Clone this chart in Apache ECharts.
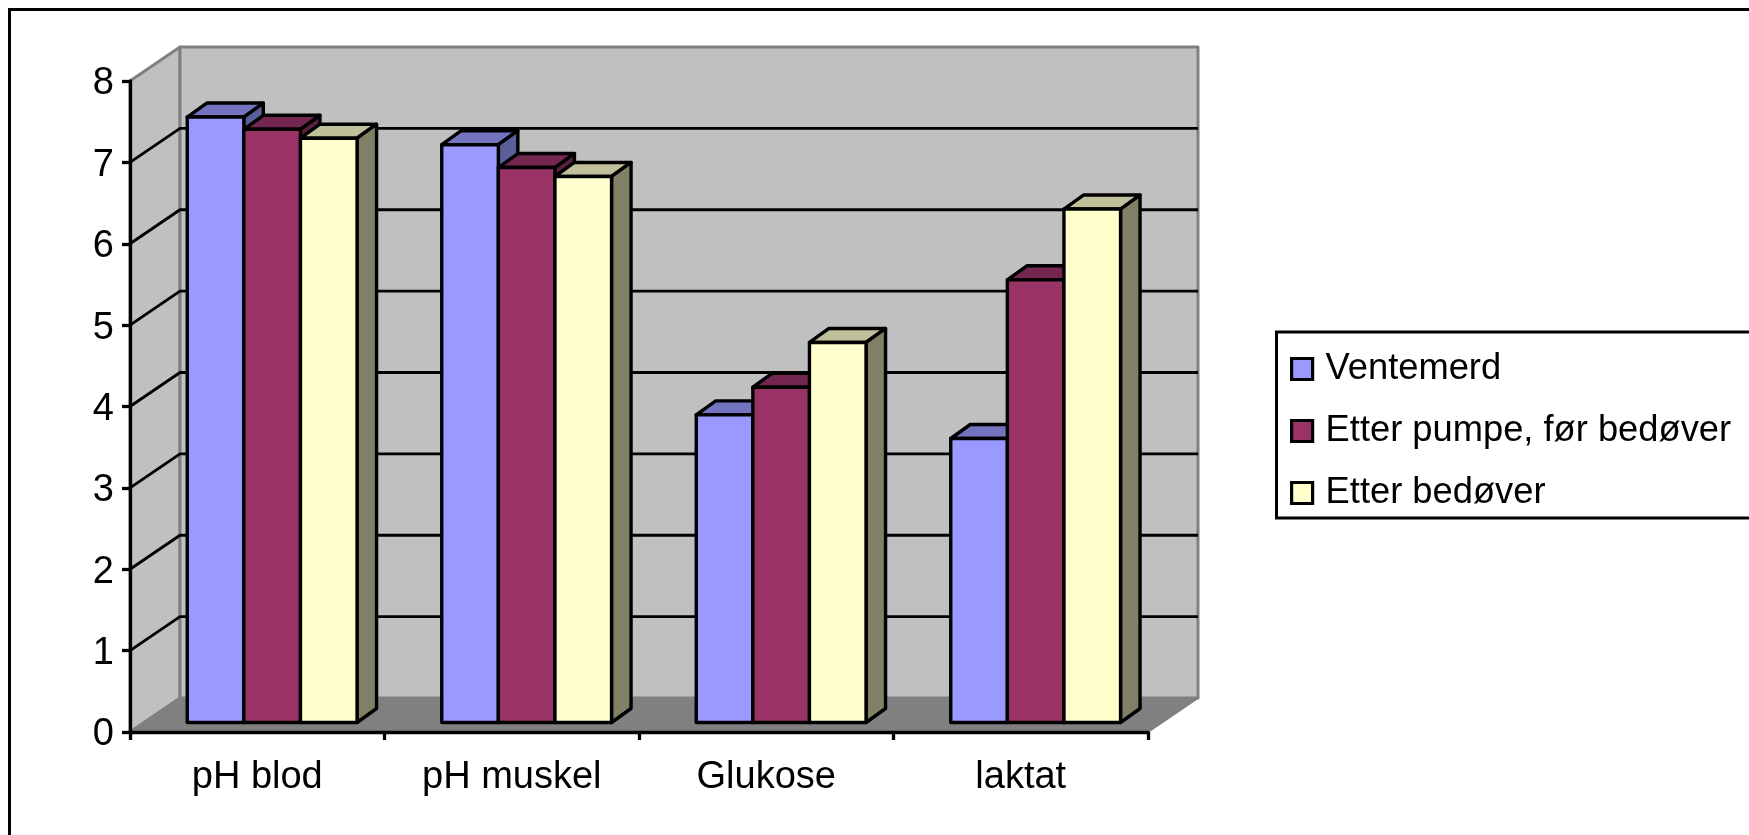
<!DOCTYPE html>
<html>
<head>
<meta charset="utf-8">
<style>html,body{margin:0;padding:0;background:#fff;overflow:hidden}#c{width:1749px;height:835px}</style>
<script src="https://cdn.jsdelivr.net/npm/echarts@6/dist/echarts.min.js"></script>
</head>
<body>
<div id="c"></div>
<script>
const categories = ['pH blod', 'pH muskel', 'Glukose', 'laktat'];
const ventemerd = [7.44, 7.1, 3.78, 3.49];
const etterPumpe = [7.29, 6.82, 4.12, 5.44];
const etterBedover = [7.18, 6.71, 4.67, 6.31];
const seriesNames = ['Ventemerd', 'Etter pumpe, før bedøver', 'Etter bedøver'];
const gridValues = [1, 2, 3, 4, 5, 6, 7];

const FONT = '"Liberation Sans", Arial, sans-serif';
const WALL_DX = 50, WALL_DY = -34;
const BAR_DX = 13.5, BAR_DY = -9.5;
const SIDE_DX = 19.5, SIDE_DY = -14;
const BAR_W = 56.6, CLUSTER_OFFSET = -83.5;

const palette = [
  {front: '#9999FF', top: '#7373BF', side: '#5B5F99'},
  {front: '#993366', top: '#732650', side: '#5C1F3D'},
  {front: '#FFFFCC', top: '#BFBF99', side: '#808066'}
];

function poly(points, fill, stroke, lw) {
  return {type: 'polygon', shape: {points}, style: {fill, stroke, lineWidth: lw, lineJoin: 'round'}};
}

function wallsItem(params, api) {
  const cs = params.coordSys;
  const x0 = cs.x, x1 = cs.x + cs.width;
  const yB = api.coord([0, 0])[1], yT = api.coord([0, 8])[1];
  const children = [
    poly([[x0, yB], [x0 + WALL_DX, yB + WALL_DY], [x0 + WALL_DX, yT + WALL_DY], [x0, yT]], '#C0C0C0', '#808080', 3),
    poly([[x0 + WALL_DX, yB + WALL_DY], [x1 + WALL_DX, yB + WALL_DY], [x1 + WALL_DX, yT + WALL_DY], [x0 + WALL_DX, yT + WALL_DY]], '#C0C0C0', '#808080', 3),
    poly([[x0, yB], [x1, yB], [x1 + WALL_DX, yB + WALL_DY], [x0 + WALL_DX, yB + WALL_DY]], '#808080', '#808080', 2)
  ];
  gridValues.forEach(v => {
    const y = api.coord([0, v])[1];
    children.push({type: 'polyline',
      shape: {points: [[x0, y], [x0 + WALL_DX, y + WALL_DY], [x1 + WALL_DX, y + WALL_DY]]},
      style: {fill: null, stroke: '#000', lineWidth: 2.9, lineJoin: 'round'}});
  });
  return {type: 'group', children};
}

function barItem(index) {
  return function (params, api) {
    const c = api.coord([api.value(0), api.value(1)]);
    const b = api.coord([api.value(0), 0]);
    const left = c[0] + CLUSTER_OFFSET + BAR_DX + index * BAR_W;
    const right = left + BAR_W;
    const top = c[1] + BAR_DY;
    const base = b[1] + BAR_DY;
    const col = palette[index];
    return {type: 'group', children: [
      poly([[left, top], [left + SIDE_DX, top + SIDE_DY], [right + SIDE_DX, top + SIDE_DY], [right, top]], col.top, '#000', 3.4),
      poly([[right, top], [right + SIDE_DX, top + SIDE_DY], [right + SIDE_DX, base + SIDE_DY], [right, base]], col.side, '#000', 3.4),
      poly([[left, top], [right, top], [right, base], [left, base]], col.front, '#000', 3.4)
    ]};
  };
}

const seriesData = [ventemerd, etterPumpe, etterBedover];

const chart = echarts.init(document.getElementById('c'), null, {renderer: 'canvas', width: 1749, height: 835});
chart.setOption({
  animation: false,
  backgroundColor: '#fff',
  grid: {left: 130, top: 81, width: 1018, height: 651},
  graphic: [
    {type: 'rect', shape: {x: 9.5, y: 9.5, width: 2400, height: 2400}, style: {fill: 'none', stroke: '#000', lineWidth: 3}, silent: true, z: 0},
    {type: 'rect', shape: {x: 1276.5, y: 332, width: 1000, height: 186}, style: {fill: '#fff', stroke: '#000', lineWidth: 3}, silent: true, z: 0}
  ],
  legend: {
    data: seriesNames,
    orient: 'vertical',
    left: 1290,
    top: 349,
    padding: 0,
    itemWidth: 21,
    itemHeight: 21,
    itemGap: 22,
    icon: 'rect',
    selectedMode: false,
    itemStyle: {borderColor: '#000', borderWidth: 3.2},
    textStyle: {fontFamily: FONT, fontSize: 36.3, color: '#000', lineHeight: 36, padding: [4, 0, 0, 8]}
  },
  xAxis: {
    type: 'category',
    data: categories,
    z: 6,
    axisLine: {show: true, lineStyle: {color: '#000', width: 3.3}},
    axisTick: {show: true, length: 8, lineStyle: {color: '#000', width: 3.3}},
    axisLabel: {fontFamily: FONT, fontSize: 38, color: '#000', margin: 27},
    splitLine: {show: false}
  },
  yAxis: {
    type: 'value',
    min: 0, max: 8, interval: 1,
    z: 6,
    axisLine: {show: true, lineStyle: {color: '#000', width: 3.3}},
    axisTick: {show: true, length: 8, lineStyle: {color: '#000', width: 3.3}},
    axisLabel: {
      margin: 16,
      formatter: '{n|{value}}',
      rich: {n: {fontFamily: FONT, fontSize: 38, color: '#000', padding: [6, 0, 0, 0]}}
    },
    splitLine: {show: false}
  },
  series: [
    {type: 'custom', z: 1, silent: true, renderItem: wallsItem, data: [[0, 0]], encode: {x: 0, y: 1}, tooltip: {show: false}}
  ].concat(seriesData.map((vals, i) => ({
    type: 'custom',
    name: seriesNames[i],
    z: 2 + i,
    silent: true,
    itemStyle: {color: palette[i].front},
    renderItem: barItem(i),
    encode: {x: 0, y: 1},
    data: vals.map((v, k) => [k, v])
  })))
});
</script>
</body>
</html>
